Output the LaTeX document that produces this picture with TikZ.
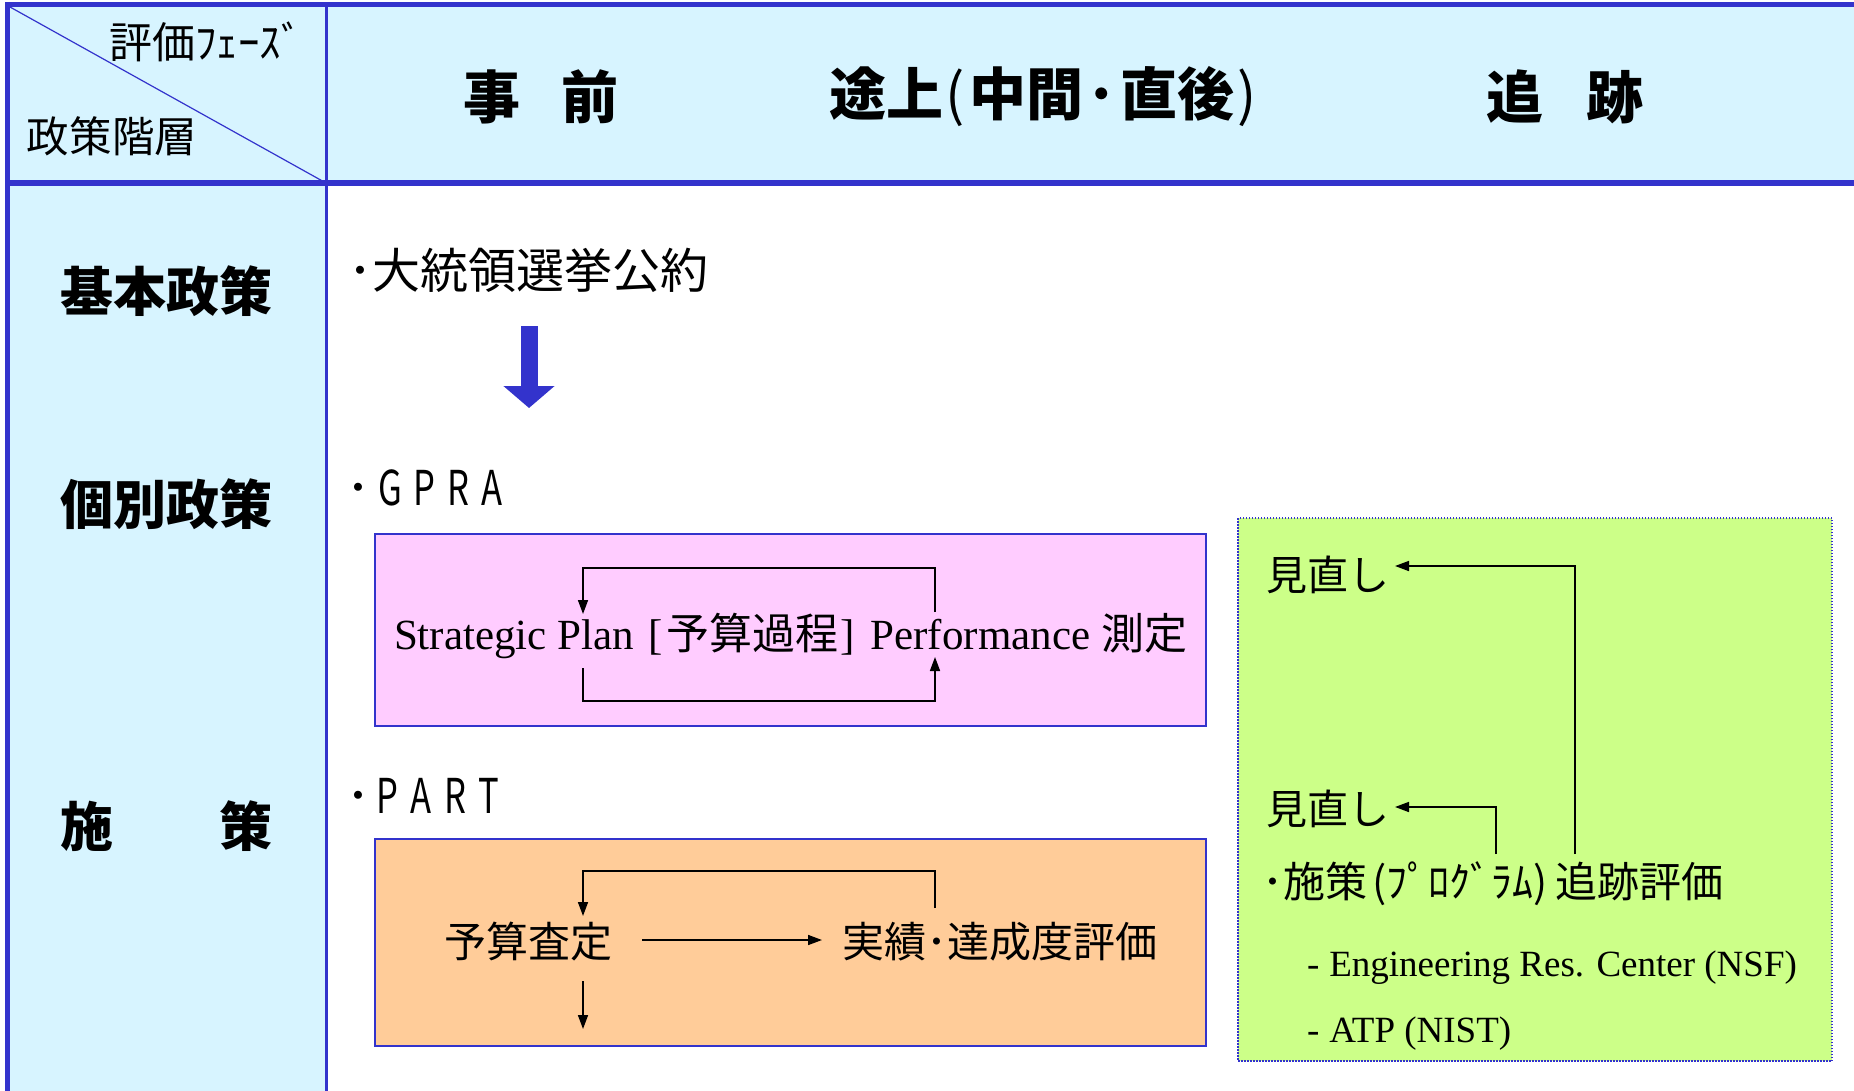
\documentclass[tikz,border=0pt]{standalone}
\usepackage{fontspec}
\usepackage{graphicx}
\usetikzlibrary{arrows.meta}
\newfontfamily\cjk{Noto Sans CJK JP}
\newfontfamily\serif{Liberation Serif}
\definecolor{hdr}{HTML}{D7F4FF}
\definecolor{frm}{HTML}{3333CC}
\definecolor{pinkf}{HTML}{FFCCFF}
\definecolor{orangef}{HTML}{FFCC99}
\definecolor{greenf}{HTML}{CCFF88}
\newcommand{\fsz}[1]{\fontsize{#1}{#1}\selectfont}
\newcommand{\ltr}[1]{\makebox[34pt][c]{\scalebox{0.72}[1]{#1}}}
\begin{document}
\begin{tikzpicture}[x=1pt,y=-1pt,
  txt/.style={inner sep=0pt, outer sep=0pt},
  hbold/.style={txt, font=\cjk\bfseries\fsz{57}},
  lbold/.style={txt, font=\cjk\bfseries\fsz{53}},
  conn/.style={line width=1.6pt, -{Triangle[width=10pt,length=14pt]}},
  boxst/.style={draw=frm, line width=2pt, inner sep=0pt},
]
\useasboundingbox (0,0) rectangle (1854,1091);
% backgrounds
\fill[hdr] (7,4) rectangle (1854,183);
\fill[hdr] (7,183) rectangle (326,1091);
% header texts
\node[txt, font=\cjk\fsz{43}] (phase) at (206,42) {評価ﾌｪｰｽﾞ};
\node[txt, font=\cjk\fsz{42.5}] (layer) at (112,136) {政策階層};
\node[hbold] (jizen) at (541,97) {事\hspace{41pt}前};
\node[hbold] (tojo) at (1043,97) {途上\hspace{2pt}{\mdseries (}\hspace{5pt}中間\hspace{4pt}･\hspace{4pt}直後\hspace{3pt}{\mdseries )}};
\node[hbold] (tsuiseki) at (1565,97) {追\hspace{44pt}跡};
% row labels
\node[lbold] (kihon) at (166.5,291) {基本政策};
\node[lbold] (kobetsu) at (166.5,504) {個別政策};
\node[lbold] (shisaku) at (166.5,826) {施　　策};
% body
\node[txt, font=\cjk\fsz{48}, anchor=west] (vote) at (348,270) {･大統領選挙公約};
\node[txt, font=\cjk\fsz{48}, anchor=west] (gpra) at (346,488) {･\hspace{3pt}\ltr{G}\ltr{P}\ltr{R}\ltr{A}};
\node[txt, font=\cjk\fsz{48}, anchor=west] (part) at (346,796) {･\hspace{0pt}\ltr{P}\ltr{A}\ltr{R}\ltr{T}};
\coordinate (ba1) at (529,326);
\coordinate (ba2) at (529,408);
\draw[frm, line width=17pt, -{Triangle[width=50pt,length=22pt]}] (ba1) -- (ba2);
% boxes
\node[boxst, fill=pinkf, minimum width=831pt, minimum height=192pt] (gprabox) at (790.5,630) {};
\node[boxst, fill=orangef, minimum width=831pt, minimum height=207pt] (partbox) at (790.5,942.5) {};
\node[draw=frm, dash pattern=on 1.5pt off 1.5pt, line width=1.5pt, fill=greenf, inner sep=0pt, minimum width=594pt, minimum height=543pt] (greenbox) at (1535,789.5) {};
% pink contents
\node[txt, font=\cjk\fsz{43}, anchor=west] (sp) at (394,636) {{\serif Strategic Plan\hspace{14pt}[}\hspace{4pt}予算過程\hspace{2pt}{\serif ]\hspace{16pt}Performance }測定};
\coordinate (p1) at (935,612);
\coordinate (p2) at (583,614);
\coordinate (p3) at (583,668);
\coordinate (p4) at (935,657);
\draw[conn] (p1) -- ++(0,-44) -| (p2);
\draw[conn] (p3) -- ++(0,33) -| (p4);
% orange contents
\node[txt, font=\cjk\fsz{42}] (yosan) at (528,942) {予算査定};
\node[txt, font=\cjk\fsz{42}] (jisseki) at (1000,942) {実績･達成度評価};
\coordinate (o1) at (935,908);
\coordinate (o2) at (583,916);
\draw[conn] (o1) -- ++(0,-37) -| (o2);
\coordinate (o3) at (642,940);
\coordinate (o4) at (822,940);
\draw[conn] (o3) -- (o4);
\coordinate (o5) at (583,981);
\coordinate (o6) at (583,1029);
\draw[conn] (o5) -- (o6);
% green contents
\node[txt, font=\cjk\fsz{41}, anchor=west] (mn1) at (1266,575) {見直し};
\node[txt, font=\cjk\fsz{41}, anchor=west] (mn2) at (1266,809) {見直し};
\node[txt, font=\cjk\fsz{42}, anchor=west] (prog) at (1262,884) {･施策\hspace{5pt}(ﾌﾟﾛｸﾞﾗﾑ)\hspace{8pt}追跡評価};
\node[txt, font=\serif\fsz{37}, anchor=west] (erc) at (1307,968) {-\hspace{10pt}Engineering Res. Center (NSF)};
\node[txt, font=\serif\fsz{37}, anchor=west] (atp) at (1307,1034) {-\hspace{10pt}ATP (NIST)};
\coordinate (g1) at (1575,854);
\coordinate (g2) at (1395,566);
\coordinate (g3) at (1496,854);
\coordinate (g4) at (1395,807);
\draw[conn] (g1) |- (g2);
\draw[conn] (g3) |- (g4);
% frame lines
\draw[frm, line width=1.2pt] (10,7) -- (326,183);
\draw[frm, line width=5pt] (5,4.5) -- (1854,4.5);
\draw[frm, line width=6pt] (5,183) -- (1854,183);
\draw[frm, line width=5pt] (7.5,2) -- (7.5,1091);
\draw[frm, line width=3pt] (326.5,4) -- (326.5,1091);
\end{tikzpicture}
\end{document}
